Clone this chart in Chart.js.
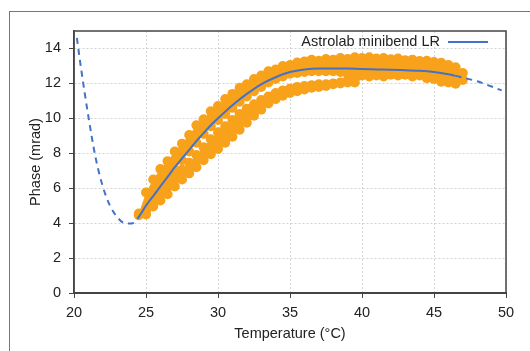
<!DOCTYPE html>
<html>
<head>
<meta charset="utf-8">
<script src="https://cdn.jsdelivr.net/npm/chart.js@4.4.0/dist/chart.umd.min.js"></script>
<style>
  html, body { margin: 0; padding: 0; background: #fff; }
  canvas { display: block; }
</style>
</head>
<body>
<canvas id="chart" width="530" height="351"></canvas>
<script>
// axis ticks
const tempTicks = [20, 25, 30, 35, 40, 45, 50];
const phaseTicks = [0, 2, 4, 6, 8, 10, 12, 14];

// fitted curve
const fitTemp  = [20.2, 20.5, 21, 21.5, 22, 22.5, 23, 23.5, 24, 24.4, 25, 25.5, 26, 26.5, 27, 27.5, 28, 28.5, 29, 29.5, 30, 31, 32, 33, 34, 35, 36, 37, 38, 39, 40, 41, 42, 43, 44, 45, 46, 46.5, 47, 48, 49, 49.7];
const fitPhase = [14.6, 12.8, 10.1, 7.75, 6.1, 5.0, 4.35, 4.0, 3.98, 4.25, 5.0, 5.55, 6.1, 6.65, 7.2, 7.7, 8.2, 8.7, 9.15, 9.6, 10.0, 10.75, 11.4, 11.95, 12.35, 12.65, 12.8, 12.85, 12.85, 12.85, 12.82, 12.8, 12.78, 12.75, 12.72, 12.65, 12.52, 12.43, 12.33, 12.12, 11.82, 11.6];
const fitSolidFrom = 24.4, fitSolidTo = 46.5;

// measured points, upper branch (upper and lower edge of the cloud)
const upperTemp = [24.5, 25, 25.5, 26, 26.5, 27, 27.5, 28, 28.5, 29, 29.5, 30, 30.5, 31, 31.5, 32, 32.5, 33, 33.5, 34, 34.5, 35, 35.5, 36, 36.5, 37, 37.5, 38, 38.5, 39, 39.5, 40, 40.5, 41, 41.5, 42, 42.5, 43, 43.5, 44, 44.5, 45, 45.5, 46, 46.5, 47];
const upperTop  = [4.55, 5.75, 6.5, 7.1, 7.55, 8.1, 8.55, 9.05, 9.6, 9.95, 10.4, 10.7, 11.1, 11.4, 11.75, 11.95, 12.25, 12.45, 12.7, 12.8, 13.0, 13.05, 13.2, 13.25, 13.35, 13.3, 13.4, 13.35, 13.45, 13.4, 13.5, 13.45, 13.5, 13.42, 13.45, 13.38, 13.42, 13.32, 13.36, 13.28, 13.3, 13.22, 13.18, 13.05, 12.92, 12.6];
const upperBot  = [4.45, 4.85, 5.4, 5.95, 6.5, 7.05, 7.6, 8.1, 8.6, 9.1, 9.55, 9.9, 10.25, 10.6, 10.95, 11.25, 11.55, 11.8, 12.05, 12.25, 12.4, 12.55, 12.6, 12.65, 12.7, 12.7, 12.7, 12.7, 12.65, 12.55, 12.5, 12.45, 12.4, 12.45, 12.4, 12.5, 12.45, 12.5, 12.4, 12.45, 12.3, 12.25, 12.1, 12.05, 11.98, 12.2];

// measured points, lower branch
const lowerTemp = [25, 25.5, 26, 26.5, 27, 27.5, 28, 28.5, 29, 29.5, 30, 30.5, 31, 31.5, 32, 32.5, 33, 33.5, 34, 34.5, 35, 35.5, 36, 36.5, 37, 37.5, 38, 38.5, 39, 39.5];
const lowerTop  = [4.7, 5.2, 5.7, 6.2, 6.65, 7.05, 7.45, 7.9, 8.35, 8.8, 9.2, 9.55, 9.9, 10.25, 10.55, 10.8, 11.05, 11.25, 11.45, 11.6, 11.7, 11.8, 11.85, 11.9, 11.95, 11.95, 12.0, 12.0, 12.05, 12.05];
const lowerBot  = [4.5, 4.95, 5.3, 5.65, 6.1, 6.5, 6.85, 7.2, 7.6, 7.95, 8.25, 8.6, 8.95, 9.35, 9.75, 10.15, 10.5, 10.85, 11.1, 11.3, 11.45, 11.55, 11.65, 11.75, 11.8, 11.85, 11.95, 12.05, 12.15, 12.25];

const pts = (xs, ys) => xs.map((x, i) => ({ x, y: ys[i] }));

const orange = '#f8a21c';
const blue = '#4472c4';
const font = { family: "'Liberation Sans', Arial, sans-serif", size: 14.5 };
const textColor = '#222';

// one edge of a measured cloud; the top edge fills down to the next dataset
function cloudEdge(xs, ys, fill) {
  return {
    label: 'measured',
    data: pts(xs, ys),
    showLine: true,
    borderWidth: 0,
    borderColor: orange,
    backgroundColor: orange,
    fill,
    pointRadius: 5,
    pointBorderWidth: 0,
    pointBackgroundColor: orange
  };
}

// plot box + outer frame
const frame = {
  id: 'frame',
  afterDraw(chart) {
    const { ctx, chartArea: a } = chart;
    ctx.save();
    ctx.strokeStyle = '#444';
    ctx.lineWidth = 1.5;
    ctx.strokeRect(a.left, a.top, a.right - a.left, a.bottom - a.top);
    ctx.strokeStyle = '#777';
    ctx.lineWidth = 1;
    ctx.strokeRect(9.5, 11.5, 700, 500);
    ctx.restore();
  }
};

// legend inside the plot, text first then the line sample
const insideLegend = {
  id: 'insideLegend',
  afterDraw(chart) {
    const ds = chart.data.datasets[0];
    const { ctx, chartArea: a } = chart;
    const y = a.top + 11, x1 = a.right - 18, x0 = x1 - 40;
    ctx.save();
    ctx.strokeStyle = ds.borderColor;
    ctx.lineWidth = 2;
    ctx.beginPath(); ctx.moveTo(x0, y); ctx.lineTo(x1, y); ctx.stroke();
    ctx.font = font.size + 'px ' + font.family;
    ctx.fillStyle = textColor;
    ctx.textAlign = 'right';
    ctx.textBaseline = 'middle';
    ctx.fillText(ds.label, x0 - 8, y);
    ctx.restore();
  }
};

new Chart(document.getElementById('chart'), {
  type: 'scatter',
  data: {
    datasets: [
      {
        label: 'Astrolab minibend LR',
        data: pts(fitTemp, fitPhase),
        showLine: true,
        borderColor: blue,
        borderWidth: 2,
        pointRadius: 0,
        cubicInterpolationMode: 'monotone',
        segment: {
          borderDash: c => (c.p0.parsed.x < fitSolidFrom || c.p1.parsed.x > fitSolidTo) ? [6, 5] : undefined
        }
      },
      cloudEdge(upperTemp, upperTop, '+1'),
      cloudEdge(upperTemp, upperBot, false),
      cloudEdge(lowerTemp, lowerTop, '+1'),
      cloudEdge(lowerTemp, lowerBot, false)
    ]
  },
  options: {
    responsive: false,
    animation: false,
    events: [],
    layout: { padding: { left: 9, top: 31, right: 24, bottom: 0 } },
    plugins: { legend: { display: false }, tooltip: { enabled: false } },
    scales: {
      x: {
        type: 'linear', min: 20, max: 50,
        afterFit: s => { s.height = 58; },
        afterBuildTicks: s => { s.ticks = tempTicks.map(v => ({ value: v })); },
        ticks: { color: textColor, font, padding: 6 },
        grid: { color: '#d2d2d2', tickColor: '#444', tickLength: 5 },
        border: { color: '#444', width: 2, dash: [2, 2] },
        title: { display: true, text: 'Temperature (°C)', color: textColor, font, padding: { top: 0, bottom: 8 } }
      },
      y: {
        type: 'linear', min: 0, max: 15,
        afterFit: s => { s.width = 65; },
        afterBuildTicks: s => { s.ticks = phaseTicks.map(v => ({ value: v })); },
        ticks: { color: textColor, font, padding: 8 },
        grid: { color: '#d2d2d2', tickColor: '#444', tickLength: 5 },
        border: { color: '#444', width: 1.5, dash: [2, 2] },
        title: { display: true, text: 'Phase (mrad)', color: textColor, font, padding: { top: 18, bottom: 0 } }
      }
    }
  },
  plugins: [frame, insideLegend]
});
</script>
</body>
</html>
